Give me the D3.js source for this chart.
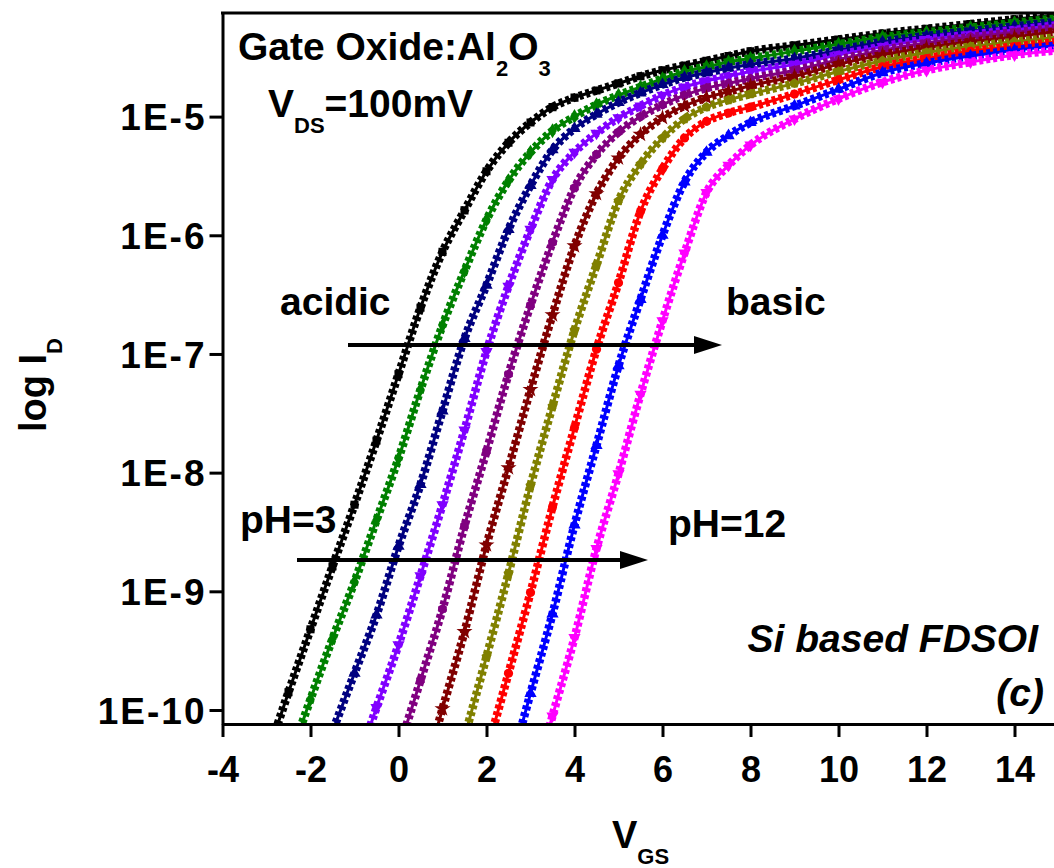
<!DOCTYPE html>
<html>
<head>
<meta charset="utf-8">
<script src="https://d3js.org/d3.v7.min.js"></script>
<style>
  body { margin: 0; background: #fff; }
  svg { display: block; font-family: "Liberation Sans", Arial, sans-serif; font-weight: bold; }
</style>
</head>
<body>
<svg id="chart"></svg>
<script>
// gate voltage V_GS (V), shared by every curve
var vgs = [-3, -2.5, -2, -1.5, -1, -0.5, 0, 0.5, 1, 1.5, 2, 2.5, 3, 3.5, 4, 4.5, 5, 5.5,
           6, 6.5, 7, 7.5, 8, 9, 10, 11, 12, 13, 14, 15, 16];

// log10(I_D), one array per pH
var logIdPH3  = [-10.40, -9.85, -9.32, -8.79, -8.27, -7.73, -7.17, -6.61, -6.14, -5.79, -5.46, -5.22, -5.05, -4.92, -4.84, -4.78, -4.72, -4.66, -4.61, -4.57, -4.53, -4.49, -4.45, -4.40, -4.35, -4.30, -4.26, -4.22, -4.18, -4.14, -4.10];
var logIdPH4  = [-11.00, -10.44, -9.91, -9.40, -8.92, -8.40, -7.88, -7.30, -6.76, -6.30, -5.87, -5.54, -5.30, -5.12, -5.00, -4.90, -4.82, -4.75, -4.68, -4.62, -4.58, -4.54, -4.51, -4.45, -4.39, -4.33, -4.29, -4.25, -4.21, -4.17, -4.13];
var logIdPH5  = [-11.65, -11.16, -10.67, -10.18, -9.69, -9.20, -8.62, -8.10, -7.48, -6.87, -6.42, -5.95, -5.58, -5.28, -5.10, -4.98, -4.88, -4.80, -4.73, -4.67, -4.63, -4.59, -4.56, -4.51, -4.44, -4.37, -4.32, -4.28, -4.24, -4.20, -4.16];
var logIdPH6  = [-12.70, -12.15, -11.60, -11.05, -10.52, -9.98, -9.45, -8.87, -8.27, -7.64, -6.98, -6.43, -5.95, -5.53, -5.30, -5.14, -5.01, -4.91, -4.82, -4.75, -4.70, -4.66, -4.62, -4.56, -4.48, -4.41, -4.35, -4.31, -4.27, -4.23, -4.19];
var logIdPH7  = [-13.90, -13.30, -12.70, -12.10, -11.50, -10.93, -10.34, -9.75, -9.15, -8.45, -7.82, -7.17, -6.59, -6.06, -5.60, -5.32, -5.13, -5.00, -4.90, -4.82, -4.76, -4.72, -4.68, -4.61, -4.52, -4.44, -4.38, -4.33, -4.29, -4.25, -4.21];
var logIdPH8  = [-15.20, -14.55, -13.90, -13.25, -12.60, -11.94, -11.29, -10.64, -9.99, -9.34, -8.61, -7.96, -7.30, -6.67, -6.09, -5.65, -5.35, -5.15, -5.01, -4.91, -4.84, -4.79, -4.74, -4.66, -4.56, -4.48, -4.42, -4.37, -4.33, -4.28, -4.24];
var logIdPH9  = [-16.30, -15.60, -14.95, -14.30, -13.60, -12.93, -12.25, -11.58, -10.90, -10.23, -9.55, -8.85, -8.11, -7.44, -6.80, -6.25, -5.71, -5.40, -5.18, -5.02, -4.92, -4.86, -4.81, -4.72, -4.62, -4.53, -4.46, -4.41, -4.37, -4.33, -4.29];
var logIdPH10 = [-17.10, -16.40, -15.80, -15.10, -14.40, -13.74, -13.06, -12.39, -11.71, -11.04, -10.36, -9.69, -9.01, -8.29, -7.62, -6.96, -6.40, -5.80, -5.44, -5.18, -5.04, -4.97, -4.92, -4.81, -4.69, -4.58, -4.51, -4.45, -4.41, -4.37, -4.33];
var logIdPH11 = [-17.90, -17.30, -16.60, -15.90, -15.30, -14.60, -13.90, -13.24, -12.56, -11.89, -11.21, -10.54, -9.86, -9.19, -8.44, -7.77, -7.10, -6.54, -6.00, -5.55, -5.30, -5.16, -5.05, -4.91, -4.77, -4.63, -4.55, -4.49, -4.44, -4.40, -4.36];
var logIdPH12 = [-18.60, -18.00, -17.30, -16.60, -16.00, -15.30, -14.70, -14.00, -13.36, -12.70, -12.04, -11.38, -10.72, -10.05, -9.39, -8.64, -8.01, -7.34, -6.72, -6.15, -5.64, -5.41, -5.24, -5.02, -4.85, -4.71, -4.61, -4.54, -4.48, -4.44, -4.40];

var curves = [logIdPH3, logIdPH4, logIdPH5, logIdPH6, logIdPH7, logIdPH8, logIdPH9, logIdPH10, logIdPH11, logIdPH12];
var colors = ["#000000", "#008000", "#000080", "#8000ff", "#800080", "#800000", "#808000", "#ff0000", "#0000ff", "#ff00ff"];
var shapes = ["square", "diamond", "up", "down", "hexagon", "star", "pentagon", "circle", "up", "down"];

var xTicks = [-4, -2, 0, 2, 4, 6, 8, 10, 12, 14];
var yTickExps = [-10, -9, -8, -7, -6, -5];

var chartW = 1054, chartH = 868;
var margin = { left: 222.5, top: 13, bottom: 724, right: 222.5 + 20 * 44 };

var svg = d3.select("#chart")
    .attr("width", chartW)
    .attr("height", chartH);

var x = d3.scaleLinear().domain([-4, 16]).range([margin.left, margin.right]);
var y = d3.scaleLog()
    .domain([Math.pow(10, -10.118), Math.pow(10, -4.127)])
    .range([margin.bottom, margin.top]);

// polygon marker for shapes d3 doesn't ship
function polygon(n, rot) {
    return {
        draw: function (context, size) {
            var r = Math.sqrt(size / (0.5 * n * Math.sin(2 * Math.PI / n)));
            for (var k = 0; k < n; k++) {
                var a = rot + 2 * Math.PI * k / n;
                if (k === 0) context.moveTo(r * Math.sin(a), -r * Math.cos(a));
                else context.lineTo(r * Math.sin(a), -r * Math.cos(a));
            }
            context.closePath();
        }
    };
}
var symbolTypes = {
    square: d3.symbolSquare, diamond: d3.symbolDiamond, up: d3.symbolTriangle,
    down: d3.symbolTriangle, hexagon: polygon(6, 0), star: d3.symbolStar,
    pentagon: polygon(5, 0), circle: d3.symbolCircle
};

svg.append("defs").append("clipPath").attr("id", "plotClip")
    .append("rect")
    .attr("x", margin.left).attr("y", margin.top)
    .attr("width", margin.right - margin.left).attr("height", margin.bottom - margin.top);

var plot = svg.append("g").attr("clip-path", "url(#plotClip)");

var line = d3.line()
    .x(function (d) { return x(d.v); })
    .y(function (d) { return y(d.i); })
    .curve(d3.curveMonotoneX);

curves.forEach(function (vals, k) {
    var pts = vgs.map(function (v, j) { return { v: v, i: Math.pow(10, vals[j]) }; });
    var g = plot.append("g");
    g.append("path")
        .attr("d", line(pts))
        .attr("fill", "none")
        .attr("stroke", colors[k])
        .attr("stroke-width", 3);
    // dense marker look of the original plot
    g.append("path")
        .attr("d", line(pts))
        .attr("fill", "none")
        .attr("stroke", colors[k])
        .attr("stroke-width", 8.5)
        .attr("stroke-dasharray", "4,3");
    g.selectAll("path.mk")
        .data(pts)
        .enter()
        .append("path")
        .attr("class", "mk")
        .attr("d", d3.symbol().type(symbolTypes[shapes[k]]).size(shapes[k] === "star" ? 80 : 65))
        .attr("transform", function (d) {
            return "translate(" + x(d.v) + "," + y(d.i) + ")" + (shapes[k] === "down" ? " rotate(180)" : "");
        })
        .attr("fill", colors[k]);
});

// axes
var xAxis = svg.append("g")
    .attr("transform", "translate(0," + margin.bottom + ")")
    .call(d3.axisBottom(x).tickValues(xTicks).tickSize(13).tickSizeOuter(0)
        .tickFormat(function (d) { return String(d); }));
xAxis.selectAll("text")
    .attr("y", 58).attr("dy", null)
    .style("font-size", "36px").attr("fill", "#000");

var yAxis = svg.append("g")
    .attr("transform", "translate(" + margin.left + ",0)")
    .call(d3.axisLeft(y)
        .tickValues(yTickExps.map(function (e) { return Math.pow(10, e); }))
        .tickSize(13).tickSizeOuter(0)
        .tickFormat(function (d) { return "1E" + Math.round(Math.log10(d)); }));
yAxis.selectAll("text")
    .attr("x", -16).attr("dy", "0.36em")
    .style("font-size", "37px").style("letter-spacing", "2px").attr("fill", "#000");

svg.selectAll(".domain, .tick line")
    .attr("stroke", "#000")
    .attr("stroke-width", 3);

// top frame line
svg.append("line")
    .attr("x1", margin.left - 1.5).attr("x2", margin.right)
    .attr("y1", margin.top).attr("y2", margin.top)
    .attr("stroke", "#000").attr("stroke-width", 3);

// text with subscript pieces: [text, isSub]
function richText(px, py, parts, size, subSize, extra) {
    var t = svg.append("text")
        .attr("x", px).attr("y", py)
        .style("font-size", size + "px");
    if (extra) extra(t);
    var shift = 0;
    parts.forEach(function (p) {
        var target = p[1] ? 16 : 0;
        t.append("tspan")
            .attr("dy", target - shift)
            .style("font-size", (p[1] ? subSize : size) + "px")
            .text(p[0]);
        shift = target;
    });
    return t;
}

richText(238, 60, [["Gate Oxide:Al", 0], ["2", 1], ["O", 0], ["3", 1]], 39, 22);
richText(268, 117, [["V", 0], ["DS", 1], ["=100mV", 0]], 39, 22);

svg.append("text").attr("x", 280).attr("y", 315).style("font-size", "39px").text("acidic");
svg.append("text").attr("x", 726).attr("y", 315).style("font-size", "39px").text("basic");
svg.append("text").attr("x", 240).attr("y", 533).style("font-size", "39px").text("pH=3");
svg.append("text").attr("x", 668).attr("y", 537).style("font-size", "39px").text("pH=12");
svg.append("text").attr("x", 1038).attr("y", 652).attr("text-anchor", "end")
    .style("font-size", "39px").style("font-style", "italic").text("Si based FDSOI");
svg.append("text").attr("x", 1044).attr("y", 706).attr("text-anchor", "end")
    .style("font-size", "39px").style("font-style", "italic").text("(c)");

// axis titles
richText(612, 848, [["V", 0], ["GS", 1]], 38, 22);
richText(0, 0, [["log I", 0], ["D", 1]], 38, 22, function (t) {
    t.attr("transform", "translate(46,432) rotate(-90)");
});

// arrows
function arrow(x1, x2, yy) {
    svg.append("line")
        .attr("x1", x1).attr("x2", x2 - 20)
        .attr("y1", yy).attr("y2", yy)
        .attr("stroke", "#000").attr("stroke-width", 4);
    svg.append("path")
        .attr("d", "M" + x2 + "," + yy + "L" + (x2 - 28) + "," + (yy - 9) + "L" + (x2 - 28) + "," + (yy + 9) + "Z")
        .attr("fill", "#000");
}
arrow(348, 722, 345);
arrow(297, 648, 560);
</script>
</body>
</html>
